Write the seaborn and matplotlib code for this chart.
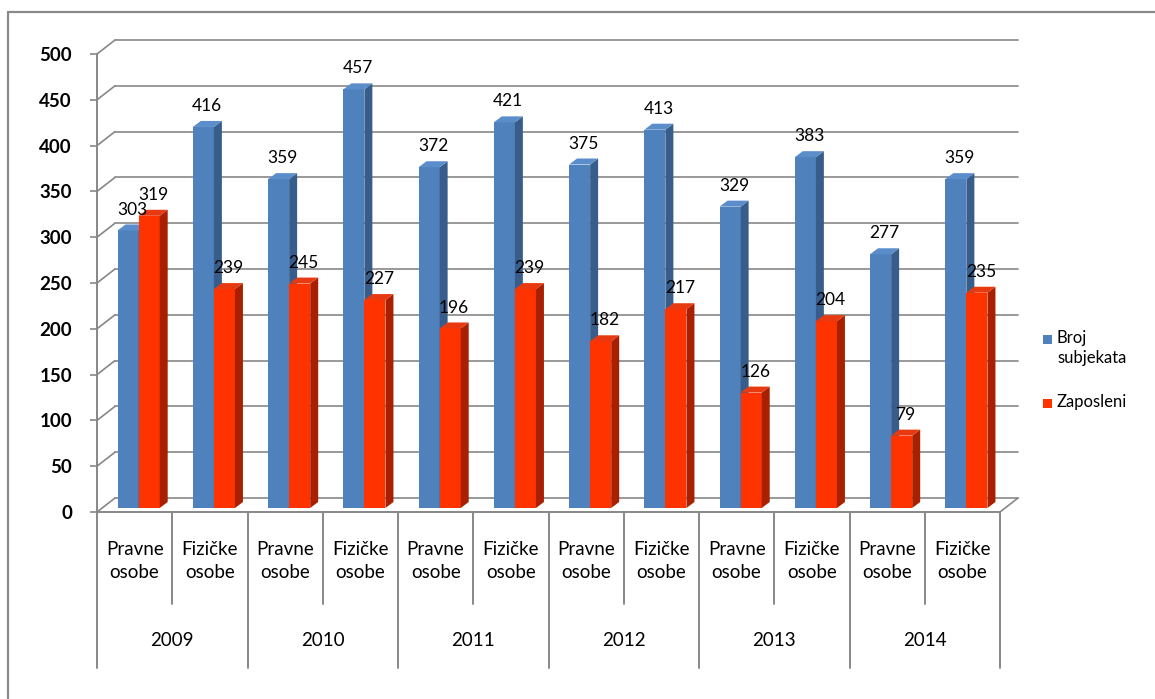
import pandas as pd
import matplotlib
matplotlib.use("Agg")
import matplotlib.pyplot as plt
import matplotlib.transforms as mtransforms
from matplotlib.patches import Polygon, Rectangle
import seaborn as sns

# --- data ---
years = ['2009', '2010', '2011', '2012', '2013', '2014']
subjects = ['Pravne\nosobe', 'Fizičke\nosobe']
series = ['Broj subjekata', 'Zaposleni']
broj_subjekata = [303, 416, 359, 457, 372, 421, 375, 413, 329, 383, 277, 359]
zaposleni = [319, 239, 245, 227, 196, 239, 182, 217, 126, 204, 79, 235]
y_ticks = list(range(0, 501, 50))

cats = [f'{y} {s}' for y in years for s in subjects]
df = pd.DataFrame({
    'kategorija': cats * 2,
    'serija': [series[0]] * len(cats) + [series[1]] * len(cats),
    'vrijednost': broj_subjekata + zaposleni,
})

sns.set_theme(style='white')
plt.rcParams['font.family'] = ['Lato', 'DejaVu Sans']

W, H = 1155, 699
fig = plt.figure(figsize=(W / 100, H / 100), dpi=100)
ax_l, ax_r, ax_t, ax_b = 97, 1000, 54, 512
ax = fig.add_axes([ax_l / W, 1 - ax_b / H, (ax_r - ax_l) / W, (ax_b - ax_t) / H])

front = ['#4F81BD', '#FF3300']
side = ['#385D8A', '#A82000']
top = ['#5B8DCB', '#E83A10']
grid_c = '#878787'

sns.barplot(data=df, x='kategorija', y='vrijednost', hue='serija', order=cats,
            hue_order=series, palette=front, width=0.56, saturation=1,
            legend=False, ax=ax, linewidth=0, edgecolor='none')
ax.set_xlim(-0.5, len(cats) - 0.5)
ax.set_ylim(0, 500)

# pixel -> data unit conversion (fixed layout)
px_x = (ax_r - ax_l) / len(cats)
px_y = (ax_b - ax_t) / 500

# back wall grid (offset 18px right, 14px up)
wdx, wdy = 18 / px_x, 14 / px_y
x0, x1 = -0.5, len(cats) - 0.5
for v in y_ticks:
    ax.plot([x0, x0 + wdx], [v, v + wdy], color=grid_c, lw=1.2, clip_on=False, zorder=1)
    ax.plot([x0 + wdx, x1 + wdx], [v + wdy, v + wdy], color=grid_c, lw=1.2,
            clip_on=False, zorder=1)
ax.plot([x1, x1 + wdx], [0, wdy], color=grid_c, lw=1.2, clip_on=False, zorder=1)

# bars sit slightly behind the front plane; add 3D side and top faces
bar_tr = ax.transData + mtransforms.ScaledTranslation(0.04, 0.04, fig.dpi_scale_trans)
bdx, bdy = 8 / px_x, 6 / px_y
for si, cont in enumerate(ax.containers):
    z = 3 + si
    for p in cont.patches:
        p.set_transform(bar_tr)
        p.set_zorder(z)
        p.set_clip_on(False)
        bx, bw, h = p.get_x(), p.get_width(), p.get_height()
        bxr = bx + bw
        ax.add_patch(Polygon([(bxr, 0), (bxr, h), (bxr + bdx, h + bdy), (bxr + bdx, bdy)],
                             closed=True, facecolor=side[si], edgecolor='none',
                             transform=bar_tr, zorder=z, clip_on=False))
        ax.add_patch(Polygon([(bx, h), (bxr, h), (bxr + bdx, h + bdy), (bx + bdx, h + bdy)],
                             closed=True, facecolor=top[si], edgecolor='none',
                             transform=bar_tr, zorder=z, clip_on=False))
        ax.annotate(f'{h:.0f}', (bx + bw / 2 + bdx / 2, h + bdy), xycoords=bar_tr,
                    xytext=(0, 5), textcoords='offset points', ha='center',
                    va='bottom', fontsize=12.5, color='black', zorder=10)

# axes frame (front plane)
for s in ['top', 'right']:
    ax.spines[s].set_visible(False)
for s in ['left', 'bottom']:
    ax.spines[s].set_color(grid_c)
    ax.spines[s].set_linewidth(1.4)
ax.set_yticks(y_ticks)
ax.tick_params(axis='y', length=5, width=1.2, color=grid_c, pad=13, labelsize=13.5,
               labelcolor='black', left=True)
for lbl in ax.get_yticklabels():
    lbl.set_fontweight('bold')
ax.set_xticks([])
ax.set_xlabel('')
ax.set_ylabel('')

# two-level category axis
blend = mtransforms.blended_transform_factory(ax.transData, ax.transAxes)
for i, c in enumerate(cats):
    ax.text(i, -(561 - ax_b) / (ax_b - ax_t), subjects[i % 2], transform=blend,
            ha='center', va='center', fontsize=13.5, linespacing=1.4, color='black')
for k, y in enumerate(years):
    ax.text(2 * k + 0.5, -(640 - ax_b) / (ax_b - ax_t), y, transform=blend,
            ha='center', va='center', fontsize=13.5, color='black')
    ax.plot([2 * k + 0.5] * 2, [0, -(604 - ax_b) / (ax_b - ax_t)], transform=blend,
            color=grid_c, lw=1.4, clip_on=False)
for k in range(len(years) + 1):
    ax.plot([2 * k - 0.5] * 2, [0, -(668 - ax_b) / (ax_b - ax_t)], transform=blend,
            color=grid_c, lw=1.4, clip_on=False)

# legend drawn by hand
leg_items = [('Broj\nsubjekata', 335), ('Zaposleni', 399)]
for si, (txt, ytop) in enumerate(leg_items):
    fig.patches.append(Rectangle((1043 / W, 1 - (ytop + 9) / H), 9 / W, 9 / H,
                                 transform=fig.transFigure, facecolor=front[si],
                                 edgecolor='none'))
    fig.text(1057 / W, 1 - (ytop - 5) / H, txt, ha='left', va='top', fontsize=12,
             linespacing=1.3, color='black')

# outer chart border
fig.add_artist(plt.Line2D([8 / W, 1], [1 - 12 / H] * 2, color='#8a8a8a', lw=1.6))
fig.add_artist(plt.Line2D([8 / W] * 2, [0, 1 - 12 / H], color='#8a8a8a', lw=1.6))

fig.savefig('out.png', dpi=100, facecolor='white')
